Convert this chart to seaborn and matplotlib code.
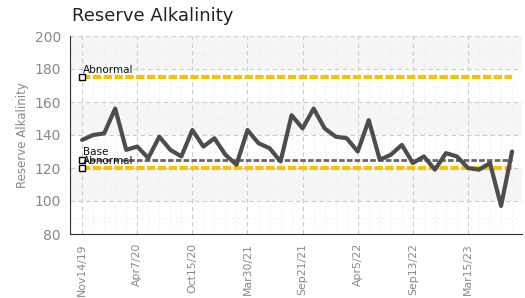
import numpy as np
import pandas as pd
import matplotlib
matplotlib.use("Agg")
import matplotlib.pyplot as plt
import seaborn as sns
from matplotlib.ticker import MultipleLocator

# values (one per sample, in order)
alkalinity = [137, 140, 141, 156, 131, 133, 126, 139, 131, 127,
              143, 133, 138, 128, 122, 143, 135, 132, 124, 152,
              144, 156, 144, 139, 138, 130, 149, 125, 128, 134,
              123, 127, 119, 129, 127, 120, 119, 123, 97, 130]
tick_labels = ["Nov14/19", "Apr7/20", "Oct15/20", "Mar30/21",
               "Sep21/21", "Apr5/22", "Sep13/22", "Mar15/23"]
abnormal_high = 175
abnormal_low = 120
base_value = 125

df = pd.DataFrame({"sample": np.arange(len(alkalinity)), "value": alkalinity})

sns.set_style("white")

fig = plt.figure(figsize=(5.25, 2.98), dpi=100)
ax = fig.add_axes([70 / 525, 1 - 234 / 298, 452 / 525, 198 / 298])

# alternating background bands
for lo in range(80, 200, 40):
    ax.axhspan(lo + 20, lo + 40, color="#f6f6f6", zorder=0, lw=0)

n = len(alkalinity)
x_end = n - 1
ax.hlines(abnormal_high, 0, x_end, colors="#f5c400", lw=3, linestyles=(0, (2, 0.6)), zorder=2)
ax.hlines(abnormal_low, 0, x_end, colors="#f5c400", lw=3, linestyles=(0, (2, 0.6)), zorder=2)
ax.hlines(base_value, 0, x_end, colors="#666666", lw=2, linestyles=(0, (2, 0.8)), zorder=2)

sns.lineplot(data=df, x="sample", y="value", ax=ax, color="#4d4d4d", lw=3, zorder=3)

for val, label in [(abnormal_high, "Abnormal"), (base_value, "Base"), (abnormal_low, "Abnormal")]:
    ax.plot([0], [val], marker="s", ms=4, mfc="white", mec="black", mew=1, zorder=5)
    ax.text(0.1, val + 1.5, label, fontsize=7.5, color="#111111",
            ha="left", va="bottom", zorder=6)

ax.set_xlim(-1.1, 39.9)
ax.set_ylim(80, 200)
ax.set_xticks(range(0, 5 * len(tick_labels), 5))
ax.set_xticklabels(tick_labels, rotation=90, fontsize=7.8, color="#888888")
ax.xaxis.set_minor_locator(MultipleLocator(1))
ax.yaxis.set_major_locator(MultipleLocator(20))
ax.yaxis.set_minor_locator(MultipleLocator(10))
ax.tick_params(axis="y", labelsize=10, labelcolor="#888888")

ax.tick_params(which="major", direction="inout", length=6, width=1, color="#333333")
ax.tick_params(which="minor", direction="inout", length=3, width=0.5, color="#dddddd")

ax.grid(which="major", color="#cccccc", ls=(0, (4, 3)), lw=0.8)
ax.grid(which="minor", color="#ececec", ls=(0, (4, 4)), lw=0.5)
ax.set_axisbelow(True)

for s in ["top", "right"]:
    ax.spines[s].set_visible(False)
ax.spines["left"].set_color("#333333")
ax.spines["bottom"].set_color("#333333")

ax.set_xlabel("")
ax.set_ylabel("Reserve Alkalinity", fontsize=8.5, color="#888888", labelpad=4)
fig.text(72 / 525, 1 - 16 / 298, "Reserve Alkalinity", fontsize=13, color="#222222",
         ha="left", va="center")

fig.savefig("out.png", dpi=100)
